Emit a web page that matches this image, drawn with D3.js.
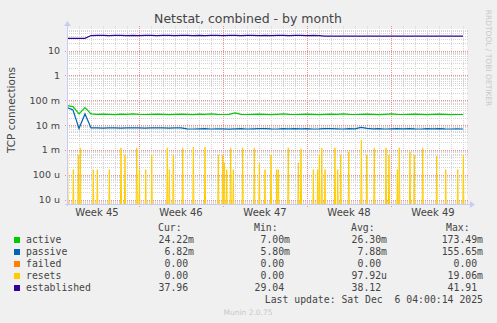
<!DOCTYPE html>
<html>
<head>
<meta charset="utf-8">
<script src="https://cdn.jsdelivr.net/npm/d3@7"></script>
<style>
  body { margin: 0; background: #f0f0f0; }
  svg { display: block; }
</style>
</head>
<body>
<svg></svg>
<script>
// series (one sample every 12 hours, starting at the left edge of the graph)
const series = ["active", "passive", "failed", "resets", "established"];
const seriesColors = ["#00CC00", "#0066B3", "#FF8000", "#FFCC00", "#330099"];

const active = [0.060, 0.055, 0.028, 0.050, 0.028, 0.027, 0.0275, 0.027, 0.026, 0.0275,
  0.027, 0.028, 0.027, 0.0265, 0.027, 0.0275, 0.027, 0.026, 0.027, 0.0275,
  0.027, 0.026, 0.0275, 0.027, 0.028, 0.027, 0.0265, 0.027, 0.031, 0.027,
  0.0265, 0.027, 0.0275, 0.027, 0.026, 0.027, 0.028, 0.027, 0.0265, 0.027,
  0.0275, 0.027, 0.026, 0.027, 0.0275, 0.027, 0.028, 0.027, 0.0265, 0.027,
  0.0275, 0.027, 0.026, 0.027, 0.028, 0.027, 0.0265, 0.027, 0.0275, 0.027,
  0.026, 0.027, 0.0275, 0.027, 0.026, 0.0265, 0.0265];

const passive = [0.050, 0.040, 0.0072, 0.028, 0.0076, 0.0076, 0.0075, 0.0077, 0.0076, 0.0075,
  0.0076, 0.0077, 0.0076, 0.0075, 0.0076, 0.0076, 0.0077, 0.0075, 0.0076, 0.0076,
  0.0070, 0.0069, 0.0070, 0.0071, 0.0069, 0.0070, 0.0070, 0.0068, 0.0070, 0.0071,
  0.0069, 0.0070, 0.0071, 0.0072, 0.0070, 0.0069, 0.0071, 0.0070, 0.0072, 0.0070,
  0.0071, 0.0069, 0.0070, 0.0072, 0.0071, 0.0070, 0.0069, 0.0071, 0.0070, 0.0080,
  0.0073, 0.0070, 0.0071, 0.0069, 0.0070, 0.0071, 0.0070, 0.0072, 0.0070, 0.0069,
  0.0071, 0.0070, 0.0072, 0.0070, 0.0069, 0.0070, 0.0069];

const established = [31, 31, 31, 31, 40, 40.5, 41, 40, 40.5, 41,
  40, 40.5, 40, 41, 40.5, 40, 41, 40.5, 40, 40.5,
  41, 40, 40.5, 40, 41, 40.5, 40, 40.5, 41, 40,
  40.5, 41, 40, 40.5, 40, 41, 40.5, 40, 40.5, 41,
  40, 40.5, 40, 38, 38, 38, 38, 38, 38, 38,
  38, 38, 38, 38, 38, 38, 38, 38, 38, 38,
  38, 38, 38, 38, 38, 38, 38];

// resets: short spikes, day offset from the left edge and peak value
const resetDays = [0.05, 0.53, 0.94, 1.11, 2.19, 2.53, 3.53, 4.5, 4.83, 5.81,
  6.03, 6.56, 7.06, 8.36, 8.53, 8.86, 9.64, 10.53, 11.5, 12.61,
  12.98, 13.11, 13.31, 13.64, 13.86, 14.64, 15.61, 16.03, 16.5, 17.0,
  17.48, 17.61, 18.44, 19.28, 19.5, 20.53, 20.89, 21.03, 21.23, 21.5,
  22.33, 22.56, 22.81, 23.48, 24.53, 24.98, 25.61, 26.58, 26.83, 27.53,
  27.69, 28.58, 28.94, 29.64, 30.81, 31.56, 32.56, 33.03];
const resetVals = [6.3e-4, 1.6e-4, 6.3e-4, 1.2e-3, 1.6e-4, 1.6e-4, 1.6e-4, 1.2e-3, 6.3e-4, 1.2e-3,
  1.6e-4, 1.6e-4, 6.3e-4, 1.2e-3, 1.6e-4, 6.3e-4, 1.2e-3, 1.3e-3, 1.3e-3, 6.3e-4,
  6.3e-4, 3e-4, 1.6e-4, 1.2e-3, 1.6e-4, 1.2e-3, 1.2e-3, 3e-4, 1.6e-4, 6.3e-4,
  1.6e-4, 1.6e-4, 1.2e-3, 3e-4, 1.1e-3, 1.6e-4, 1.6e-4, 6.3e-4, 1.2e-3, 1.6e-4,
  1.2e-3, 1.6e-4, 6.3e-4, 8.3e-4, 2.5e-3, 6.3e-4, 1.2e-3, 1.2e-3, 6.3e-4, 1.6e-4,
  1.2e-3, 8.3e-4, 6.3e-4, 1.2e-3, 5.7e-4, 1.6e-4, 1.6e-4, 6.3e-4];

// legend table
const curVals = ["24.22m", "6.82m", "0.00", "0.00", "37.96"];
const minVals = ["7.00m", "5.80m", "0.00", "0.00", "29.04"];
const avgVals = ["26.30m", "7.88m", "0.00", "97.92u", "38.12"];
const maxVals = ["173.49m", "155.65m", "0.00", "19.06m", "41.91"];

// axis labels
const yTickValues = [10, 1, 0.1, 0.01, 0.001, 1e-4, 1e-5];
const yTickLabels = ["10", "1", "100 m", "10 m", "1 m", "100 u", "10 u"];
const weekLabels = ["Week 45", "Week 46", "Week 47", "Week 48", "Week 49"];

const W = 497, H = 323;
const pLeft = 67, pRight = 467, pTop = 29, pBottom = 204;
const font = "DejaVu Sans, sans-serif";
const mono = "DejaVu Sans Mono, monospace";
const textColor = "#444";

const svg = d3.select("svg").attr("width", W).attr("height", H);
svg.append("rect").attr("width", W).attr("height", H).attr("fill", "#f0f0f0");

const start = new Date(Date.UTC(2025, 10, 4));
const end = d3.utcHour.offset(start, 800);
const atDay = (d) => new Date(start.getTime() + d * 864e5);

const x = d3.scaleUtc().domain([start, end]).range([pLeft, pRight]);
const y = d3.scaleLog().domain([Math.pow(10, -5.181), Math.pow(10, 1.866)]).range([pBottom, pTop]);

// plot background
svg.append("rect")
  .attr("x", pLeft).attr("y", pTop)
  .attr("width", pRight - pLeft).attr("height", pBottom - pTop)
  .attr("fill", "#fff");

const grid = svg.append("g").attr("shape-rendering", "crispEdges");

// horizontal minor grid
const minor = [];
for (let e = -6; e <= 1; e++) {
  for (let m = 2; m <= 9; m++) {
    const v = m * Math.pow(10, e);
    if (y(v) > pTop && y(v) < pBottom) minor.push(v);
  }
}
grid.selectAll(".hmin").data(minor).enter().append("line")
  .attr("x1", pLeft).attr("x2", pRight + 2)
  .attr("y1", (d) => Math.round(y(d)) + 0.5).attr("y2", (d) => Math.round(y(d)) + 0.5)
  .attr("stroke", "#d4d4d4").attr("stroke-dasharray", "1,1");

// vertical minor grid (days)
const days = d3.utcDay.range(d3.utcDay.offset(start, 1), end);
grid.selectAll(".vmin").data(days).enter().append("line")
  .attr("x1", (d) => Math.round(x(d)) + 0.5).attr("x2", (d) => Math.round(x(d)) + 0.5)
  .attr("y1", pTop - 3).attr("y2", pBottom + 2)
  .attr("stroke", "#d4d4d4").attr("stroke-dasharray", "1,1");

// major grid
grid.selectAll(".hmaj").data(yTickValues).enter().append("line")
  .attr("x1", pLeft - 2).attr("x2", pRight + 2)
  .attr("y1", (d) => Math.round(y(d)) + 0.5).attr("y2", (d) => Math.round(y(d)) + 0.5)
  .attr("stroke", "#f09090").attr("stroke-dasharray", "1,1");

const mondays = d3.utcMonday.range(start, end);
grid.selectAll(".vmaj").data(mondays).enter().append("line")
  .attr("x1", (d) => Math.round(x(d)) + 0.5).attr("x2", (d) => Math.round(x(d)) + 0.5)
  .attr("y1", pTop - 3).attr("y2", pBottom + 3)
  .attr("stroke", "#f09090").attr("stroke-dasharray", "1,1");

// clip
svg.append("clipPath").attr("id", "plot").append("rect")
  .attr("x", pLeft).attr("y", pTop).attr("width", pRight - pLeft).attr("height", pBottom - pTop);
const plot = svg.append("g").attr("clip-path", "url(#plot)");

// resets spikes
const floor = 1e-7;
const resetPts = [];
resetDays.forEach((d, i) => {
  resetPts.push([atDay(d - 1 / 12), floor]);
  resetPts.push([atDay(d), resetVals[i]]);
  resetPts.push([atDay(d + 1 / 12), floor]);
});
const line = d3.line().x((d) => x(d[0])).y((d) => y(d[1]));
plot.append("path")
  .attr("d", line(resetPts))
  .attr("fill", "none").attr("stroke", seriesColors[3]).attr("stroke-width", 1);

const toPts = (vals) => vals.map((v, i) => [d3.utcHour.offset(start, i * 12), v]);
[[active, 0], [passive, 1], [established, 4]].forEach(([vals, ci]) => {
  plot.append("path")
    .attr("d", line(toPts(vals)))
    .attr("fill", "none").attr("stroke", seriesColors[ci]).attr("stroke-width", 1.2);
});

// axes lines with arrows
const axisColor = "#c8ccf0";
svg.append("line").attr("x1", pLeft - 2).attr("x2", pRight + 4)
  .attr("y1", pBottom + 0.5).attr("y2", pBottom + 0.5)
  .attr("stroke", axisColor);
svg.append("path")
  .attr("d", `M${pRight + 3},${pBottom - 3} L${pRight + 8},${pBottom + 0.5} L${pRight + 3},${pBottom + 4} Z`)
  .attr("fill", axisColor);
svg.append("line").attr("x1", pLeft + 0.5).attr("x2", pLeft + 0.5)
  .attr("y1", pBottom + 2).attr("y2", pTop - 4)
  .attr("stroke", axisColor);
svg.append("path")
  .attr("d", `M${pLeft - 3},${pTop - 3} L${pLeft + 0.5},${pTop - 8} L${pLeft + 4},${pTop - 3} Z`)
  .attr("fill", axisColor);

// y labels
svg.selectAll(".ylab").data(yTickValues).enter().append("text")
  .attr("x", 60).attr("y", (d) => y(d) + 3.5)
  .attr("text-anchor", "end")
  .attr("font-family", font).attr("font-size", "9.5px")
  .attr("fill", textColor)
  .text((d, i) => yTickLabels[i]);

// x labels: centered in each week
svg.selectAll(".xlab").data(weekLabels).enter().append("text")
  .attr("x", (d, i) => x(d3.utcHour.offset(d3.utcMonday.offset(mondays[0], i - 1), 84)))
  .attr("y", 216)
  .attr("text-anchor", "middle")
  .attr("font-family", font).attr("font-size", "10px")
  .attr("fill", textColor)
  .text((d) => d);

// title
svg.append("text")
  .attr("x", 248).attr("y", 23)
  .attr("text-anchor", "middle")
  .attr("font-family", font).attr("font-size", "12.5px")
  .attr("fill", "#444")
  .text("Netstat, combined - by month");

// y axis title
svg.append("text")
  .attr("transform", "translate(15,110) rotate(-90)")
  .attr("text-anchor", "middle")
  .attr("font-family", font).attr("font-size", "10.5px")
  .attr("fill", textColor)
  .text("TCP connections");

// watermark
svg.append("text")
  .attr("transform", "translate(486,58) rotate(90)")
  .attr("text-anchor", "middle")
  .attr("font-family", font).attr("font-size", "7.5px")
  .attr("fill", "#c8c8c8")
  .text("RRDTOOL / TOBI OETIKER");

// legend
const charW = 5.9;
const legend = svg.append("g")
  .attr("font-family", mono).attr("font-size", "9.8px").attr("fill", textColor);

[["Cur:", 158], ["Min:", 254], ["Avg:", 351], ["Max:", 446]].forEach(([t, cx]) => {
  legend.append("text").attr("x", cx).attr("y", 231).text(t);
});

const cols = [[curVals, 194], [minVals, 290], [avgVals, 387], [maxVals, 483]];
series.forEach((name, i) => {
  const rowY = 243 + i * 12;
  legend.append("rect")
    .attr("x", 14).attr("y", rowY - 6).attr("width", 6).attr("height", 6)
    .attr("fill", seriesColors[i]);
  legend.append("text").attr("x", 26).attr("y", rowY).text(name);
  cols.forEach(([vals, endX]) => {
    const v = vals[i];
    const hasUnit = /[a-z]$/i.test(v);
    legend.append("text")
      .attr("x", hasUnit ? endX : endX - charW)
      .attr("y", rowY)
      .attr("text-anchor", "end")
      .text(v);
  });
});

legend.append("text")
  .attr("x", 483).attr("y", 303)
  .attr("text-anchor", "end")
  .text("Last update: Sat Dec \u00a06 04:00:14 2025");

svg.append("text")
  .attr("x", 248).attr("y", 315)
  .attr("text-anchor", "middle")
  .attr("font-family", font).attr("font-size", "7.5px")
  .attr("fill", "#c8c8c8")
  .text("Munin 2.0.75");
</script>
</body>
</html>
